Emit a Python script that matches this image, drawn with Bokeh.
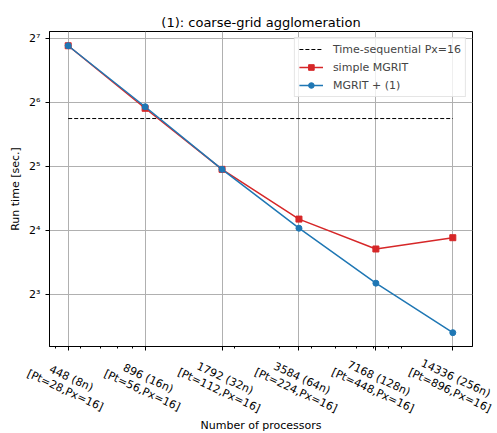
import math
from bokeh.plotting import figure
from bokeh.models import FixedTicker, Range1d, Legend, LegendItem, ColumnDataSource, LabelSet, Label
from bokeh.core.properties import value
from bokeh.embed import file_html
from bokeh.resources import INLINE

# ---- data ----
procs = [448, 896, 1792, 3584, 7168, 14336]
tick_line1 = ["448 (8n)", "896 (16n)", "1792 (32n)", "3584 (64n)", "7168 (128n)", "14336 (256n)"]
tick_line2 = ["[Pt=28,Px=16]", "[Pt=56,Px=16]", "[Pt=112,Px=16]", "[Pt=224,Px=16]",
              "[Pt=448,Px=16]", "[Pt=896,Px=16]"]
simple_mgrit = [118, 60, 31, 18.1, 13.1, 14.8]
mgrit_agg = [118, 61, 31, 16.4, 9.05, 5.3]
time_seq_value = 53.7
time_seq_x = [448, 14336]
y_ticks = [8, 16, 32, 64, 128]
y_tick_labels = ["2³", "2⁴", "2⁵", "2⁶", "2⁷"]
x_minor = [400, 500, 600, 700, 800, 900, 2000, 3000, 4000, 5000, 6000, 7000, 8000, 9000]

FONT = "DejaVu Sans"
RED = "#d62728"
BLUE = "#1f77b4"

W = 496
BL, BR, BT, BB = 49, 24, 31, 10
H1 = 356
H2 = 432 - H1
x0 = 448 * 2 ** -0.243
x1 = 14336 * 2 ** 0.256

p = figure(
    width=W, height=H1,
    x_axis_type="log", y_axis_type="log",
    x_range=Range1d(x0, x1),
    y_range=Range1d(2 ** 2.19, 2 ** 7.105),
    output_backend="svg", toolbar_location=None,
    title="(1): coarse-grid agglomeration",
    min_border_left=BL, min_border_right=BR, min_border_top=BT, min_border_bottom=BB,
)
p.title.align = "center"
p.title.text_font = FONT
p.title.text_font_size = "13px"
p.title.text_font_style = "normal"
p.title.text_color = "black"
p.title.standoff = 4

p.outline_line_color = "black"
p.outline_line_width = 1
p.outline_line_alpha = 1

p.xgrid.grid_line_color = "#b0b0b0"
p.ygrid.grid_line_color = "#b0b0b0"
p.xgrid.grid_line_width = 1
p.ygrid.grid_line_width = 1

xa = p.xaxis[0]
xa.ticker = FixedTicker(ticks=procs, minor_ticks=x_minor)
xa.major_label_text_font_size = "0px"
xa.major_label_text_color = None
xa.major_label_standoff = 0
ya = p.yaxis[0]
ya.ticker = FixedTicker(ticks=y_ticks, minor_ticks=[])
ya.major_label_overrides = {v: t for v, t in zip(y_ticks, y_tick_labels)}

for ax in (xa, ya):
    ax.major_label_text_font = FONT
    ax.axis_label_text_font = FONT
    ax.axis_label_text_font_size = "11px"
    ax.axis_label_text_font_style = "normal"
    ax.axis_label_text_color = "black"
    ax.major_tick_out = 4
    ax.major_tick_in = 0
    ax.minor_tick_out = 2
    ax.minor_tick_in = 0
    ax.axis_line_color = "black"
    ax.major_tick_line_color = "black"
    ax.minor_tick_line_color = "black"
ya.major_label_text_font_size = "11px"
ya.major_label_text_color = "black"
ya.axis_label = "Run time [sec.]"
ya.major_label_standoff = 5
ya.axis_label_standoff = 4

r_seq = p.line(time_seq_x, [time_seq_value, time_seq_value], line_color="black",
               line_width=1, line_dash="4 2")
src_s = ColumnDataSource(dict(x=procs, y=simple_mgrit))
src_a = ColumnDataSource(dict(x=procs, y=mgrit_agg))
r_sl = p.line("x", "y", source=src_s, line_color=RED, line_width=1.5)
r_sm = p.scatter("x", "y", source=src_s, marker="square", size=6, fill_color=RED, line_color=RED)
r_al = p.line("x", "y", source=src_a, line_color=BLUE, line_width=1.5)
r_am = p.scatter("x", "y", source=src_a, marker="circle", size=6, fill_color=BLUE, line_color=BLUE)

legend = Legend(
    items=[
        LegendItem(label="Time-sequential Px=16", renderers=[r_seq]),
        LegendItem(label="simple MGRIT", renderers=[r_sl, r_sm]),
        LegendItem(label="MGRIT + (1)", renderers=[r_al, r_am]),
    ],
    location="top_right",
    label_text_font=FONT, label_text_font_size="11px",
    label_height=14, glyph_height=14, glyph_width=24,
    spacing=4, padding=4, margin=6, label_standoff=10,
    border_line_color="#cccccc", border_line_width=1,
    background_fill_alpha=0.8,
)
p.add_layout(legend)

# ---- strip below the plot holding the rotated x tick labels and the x-axis title ----
# (a separate root, so its frame spans its full width; its log x scale continues the one above)
fw = W - BL - BR
L = math.log2(x1 / x0)
p2 = figure(
    width=W, height=H2,
    x_axis_type="log",
    x_range=Range1d(x0 * 2 ** (-BL * L / fw), x1 * 2 ** (BR * L / fw)),
    y_range=Range1d(0, 1),
    x_axis_location=None, y_axis_location=None,
    output_backend="svg", toolbar_location=None,
    min_border=0, min_border_left=0, min_border_right=0, min_border_top=0, min_border_bottom=0,
)
p2.outline_line_color = None
p2.grid.visible = False

ANG = -0.436
lab_src = ColumnDataSource(dict(x=procs, t1=tick_line1, t2=tick_line2))
p2.add_layout(LabelSet(x="x", y=54, y_units="screen", text="t1", source=lab_src,
                       angle=ANG, text_align="center", text_baseline="middle",
                       text_font=value(FONT), text_font_size="11px", text_color="black",
                       x_offset=3))
p2.add_layout(LabelSet(x="x", y=42, y_units="screen", text="t2", source=lab_src,
                       angle=ANG, text_align="center", text_baseline="middle",
                       text_font=value(FONT), text_font_size="11px", text_color="black",
                       x_offset=-3))
p2.add_layout(Label(x=math.sqrt(x0 * x1), y=7, y_units="screen", text="Number of processors",
                    text_align="center", text_baseline="middle",
                    text_font=FONT, text_font_size="11px", text_color="black"))

open("out.html", "w").write(file_html([p, p2], INLINE))
